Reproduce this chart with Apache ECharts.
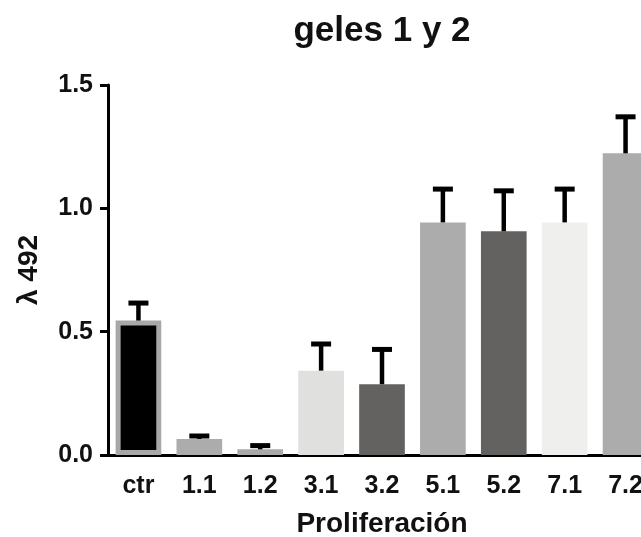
<!DOCTYPE html>
<html>
<head>
<meta charset="utf-8">
<script src="https://cdn.jsdelivr.net/npm/echarts@6/dist/echarts.min.js"></script>
<style>
html,body{margin:0;padding:0;background:#fff;}
#chart{width:641px;height:537px;}
</style>
</head>
<body>
<div id="chart"></div>
<script>
var categories = ['ctr', '1.1', '1.2', '3.1', '3.2', '5.1', '5.2', '7.1', '7.2'];
var means = [0.545, 0.065, 0.023, 0.342, 0.287, 0.943, 0.907, 0.943, 1.223];
var sems = [0.071, 0.012, 0.015, 0.108, 0.141, 0.135, 0.164, 0.135, 0.148];
var barColors = ['#000000', '#acacac', '#a9a9a9', '#e0e0df', '#636260', '#adacac', '#636261', '#efefed', '#adacac'];
var yTicks = [0, 0.5, 1.0, 1.5];

var FONT = 'Liberation Sans';
var chart = echarts.init(document.getElementById('chart'), null, {renderer: 'canvas'});

var barData = means.map(function (v, i) {
  var item = {value: v, itemStyle: {color: barColors[i]}};
  if (i === 0) {
    item.itemStyle.borderColor = '#a8a8a8';
    item.itemStyle.borderWidth = 5;
  }
  return item;
});
var errData = means.map(function (v, i) { return [i, v, v + sems[i]]; });

chart.setOption({
  animation: false,
  backgroundColor: '#ffffff',
  title: {
    text: 'geles 1 y 2',
    left: 377,
    top: 9,
    textAlign: 'center',
    textStyle: {fontFamily: FONT, fontSize: 35, fontWeight: 'bold', color: '#111'}
  },
  grid: {left: 108, right: -15, top: 85, bottom: 82, containLabel: false, outerBoundsMode: 'none'},
  xAxis: {
    type: 'category',
    data: categories,
    name: 'Proliferación',
    nameLocation: 'middle',
    nameGap: 55,
    nameTextStyle: {fontFamily: FONT, fontSize: 28, fontWeight: 'bold', color: '#111'},
    axisLine: {lineStyle: {color: '#000', width: 3}},
    axisTick: {alignWithLabel: true, length: 9, lineStyle: {color: '#000', width: 3}},
    axisLabel: {fontFamily: FONT, fontSize: 25, fontWeight: 'bold', color: '#111', margin: 19, interval: 0}
  },
  yAxis: {
    type: 'value',
    min: yTicks[0],
    max: yTicks[yTicks.length - 1],
    interval: 0.5,
    name: 'λ 492',
    nameLocation: 'middle',
    nameRotate: 90,
    nameGap: 65,
    nameTextStyle: {fontFamily: FONT, fontSize: 28, fontWeight: 'bold', color: '#111'},
    splitLine: {show: false},
    axisLine: {show: true, lineStyle: {color: '#000', width: 3}},
    axisTick: {show: true, length: 8, lineStyle: {color: '#000', width: 3}},
    axisLabel: {fontFamily: FONT, fontSize: 25, fontWeight: 'bold', color: '#111', margin: 15,
      padding: [0, 0, 5, 0],
      formatter: function (v) { return v.toFixed(1); }}
  },
  series: [
    {
      type: 'bar',
      data: barData,
      barWidth: '75%',
      z: 2
    },
    {
      type: 'custom',
      data: errData,
      z: 3,
      renderItem: function (params, api) {
        var x = api.value(0);
        var base = api.coord([x, api.value(1)]);
        var top = api.coord([x, api.value(2)]);
        var capHalf = 10;
        return {
          type: 'group',
          children: [
            {type: 'line', shape: {x1: base[0], y1: base[1], x2: top[0], y2: top[1]},
              style: {stroke: '#000', lineWidth: 4.5}},
            {type: 'line', shape: {x1: top[0] - capHalf, y1: top[1], x2: top[0] + capHalf, y2: top[1]},
              style: {stroke: '#000', lineWidth: 5}}
          ]
        };
      }
    }
  ]
});
</script>
</body>
</html>
